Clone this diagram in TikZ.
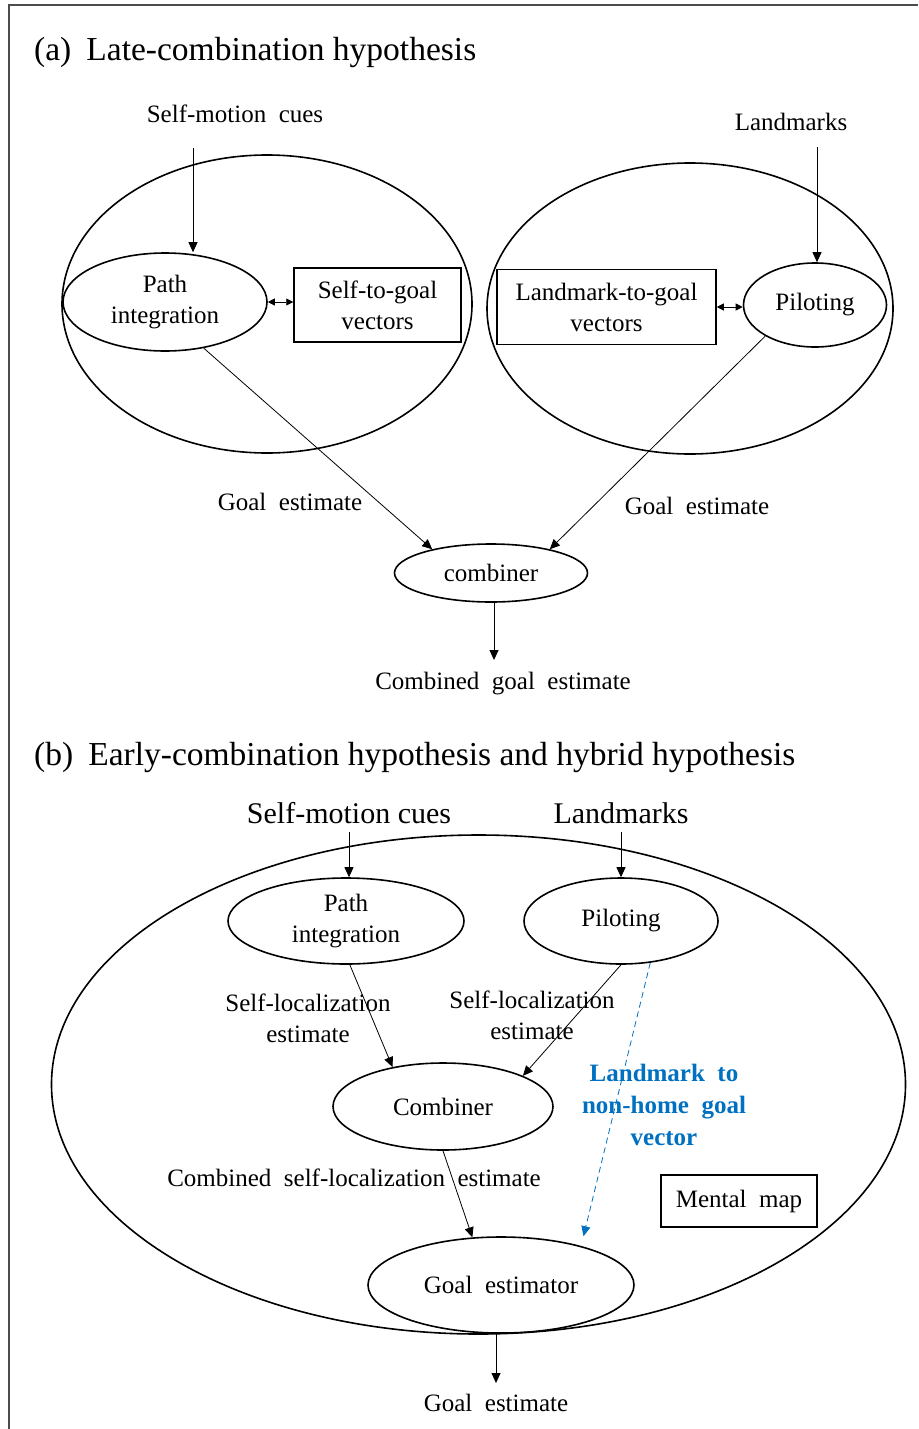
\documentclass[tikz,border=0pt]{standalone}
\usepackage{fontspec}
\setmainfont{Liberation Serif}
\usetikzlibrary{shapes.geometric,arrows.meta}
\definecolor{vecblue}{RGB}{0,112,192}
\newcommand\labelfont{\fontsize{25}{31}\selectfont\spaceskip 0.5em\relax}
\newcommand\bluefont{\fontsize{25}{32}\selectfont\bfseries\spaceskip 0.5em\relax}

\begin{document}
\begin{tikzpicture}[x=1pt,y=-1pt,
  every node/.style={font=\labelfont,inner sep=0pt},
  bigtext/.style={font=\fontsize{30}{36}\selectfont},
  headtext/.style={font=\fontsize{33.5}{40}\selectfont,anchor=base west},
  oval/.style 2 args={ellipse,draw,line width=1.6pt,minimum width=#1,minimum height=#2},
  box/.style={rectangle,draw,line width=1.5pt,align=center},
  arr/.style={-{Triangle[length=10pt,width=9pt]},line width=0.8pt},
  darr/.style={{Triangle[length=7pt,width=7pt]}-{Triangle[length=7pt,width=7pt]},line width=0.8pt}]
\useasboundingbox (0,0) rectangle (918,1429);
\draw[line width=1.6pt,black!70] (9,1429) -- (9,5) -- (918,5);

\node[headtext] (titleA) at (34,60) {(a)\hspace{0.45em}Late-combination hypothesis};
\node (cuesA) at (235,114) {Self-motion cues};
\node (marksA) at (791,122) {Landmarks};
\node[oval={410pt}{298pt}] (groupPI) at (267,304) {};
\node[oval={406pt}{291pt}] (groupPL) at (690,308.5) {};
\node[oval={204pt}{98pt},align=center] (pathA) at (165,302) {Path\\integration};
\node[box,minimum width=167pt,minimum height=74pt] (selfvecA) at (377.5,305) {Self-to-goal\\vectors};
\node[box,minimum width=219pt,minimum height=75pt] (markvecA) at (606.5,307) {Landmark-to-goal\\vectors};
\node[oval={143pt}{84pt}] (pilotA) at (815,305) {Piloting};
\node[oval={193pt}{58pt}] (combA) at (491,573) {combiner};
\node (goalL) at (290,502) {Goal estimate};
\node (goalR) at (697,506) {Goal estimate};
\node (combGoalA) at (503,684) {Combined goal estimate};
\coordinate (cuesInA) at (193,148);
\coordinate (marksInA) at (817,147);
\coordinate (combOutA) at (494,660);
\draw[arr] (cuesInA) -- (cuesInA |- pathA.north);
\draw[arr] (marksInA) -- (marksInA |- pilotA.north);
\draw[darr] (pathA.east) -- (pathA.east -| selfvecA.west);
\draw[darr] (markvecA.east) -- (markvecA.east -| pilotA.west);
\draw[arr] (pathA.-50) -- (combA.158);
\draw[arr] (pilotA.212) -- (combA.22);
\draw[arr] (combA.south -| combOutA) -- (combOutA);

\node[headtext] (titleB) at (34,765) {(b)\hspace{0.45em}Early-combination hypothesis and hybrid hypothesis};
\node[bigtext] (cuesB) at (349,813) {Self-motion cues};
\node[bigtext] (marksB) at (621,813) {Landmarks};
\node[oval={854pt}{499pt}] (mapB) at (478.5,1084.5) {};
\node[oval={236pt}{86pt},align=center] (pathB) at (346,921) {Path\\integration};
\node[oval={194pt}{86pt}] (pilotB) at (621,921) {Piloting};
\node[oval={220pt}{87pt}] (combB) at (443,1106.5) {Combiner};
\node[oval={266pt}{96pt}] (goalB) at (501,1285) {Goal estimator};
\node[box,minimum width=156pt,minimum height=52pt] (mentalB) at (739,1201) {Mental map};
\node[align=center] (selflocL) at (308,1018) {Self-localization\\estimate};
\node[align=center] (selflocR) at (532,1015) {Self-localization\\estimate};
\node (combSelfB) at (354,1178) {Combined self-localization estimate};
\node[align=center,text=vecblue,font=\bluefont] (vecB) at (664,1105) {Landmark to\\non-home goal\\vector};
\node (goalEstB) at (496,1403) {Goal estimate};
\coordinate (cuesInB) at (349,832);
\coordinate (marksInB) at (621,832);
\coordinate (goalOutB) at (496,1383);
\draw[arr] (cuesInB) -- (cuesInB |- pathB.north);
\draw[arr] (marksInB) -- (pilotB.north);
\draw[arr] (pathB.-85) -- (combB.142);
\draw[arr] (pilotB.south) -- (combB.21);
\draw[arr,vecblue,dash pattern=on 6pt off 4pt,shorten >=10pt] (pilotB.-55) -- (goalB.26);
\draw[arr] (combB.south) -- (goalB.121);
\draw[arr] (goalB.south -| goalOutB) -- (goalOutB);
\end{tikzpicture}
\end{document}
